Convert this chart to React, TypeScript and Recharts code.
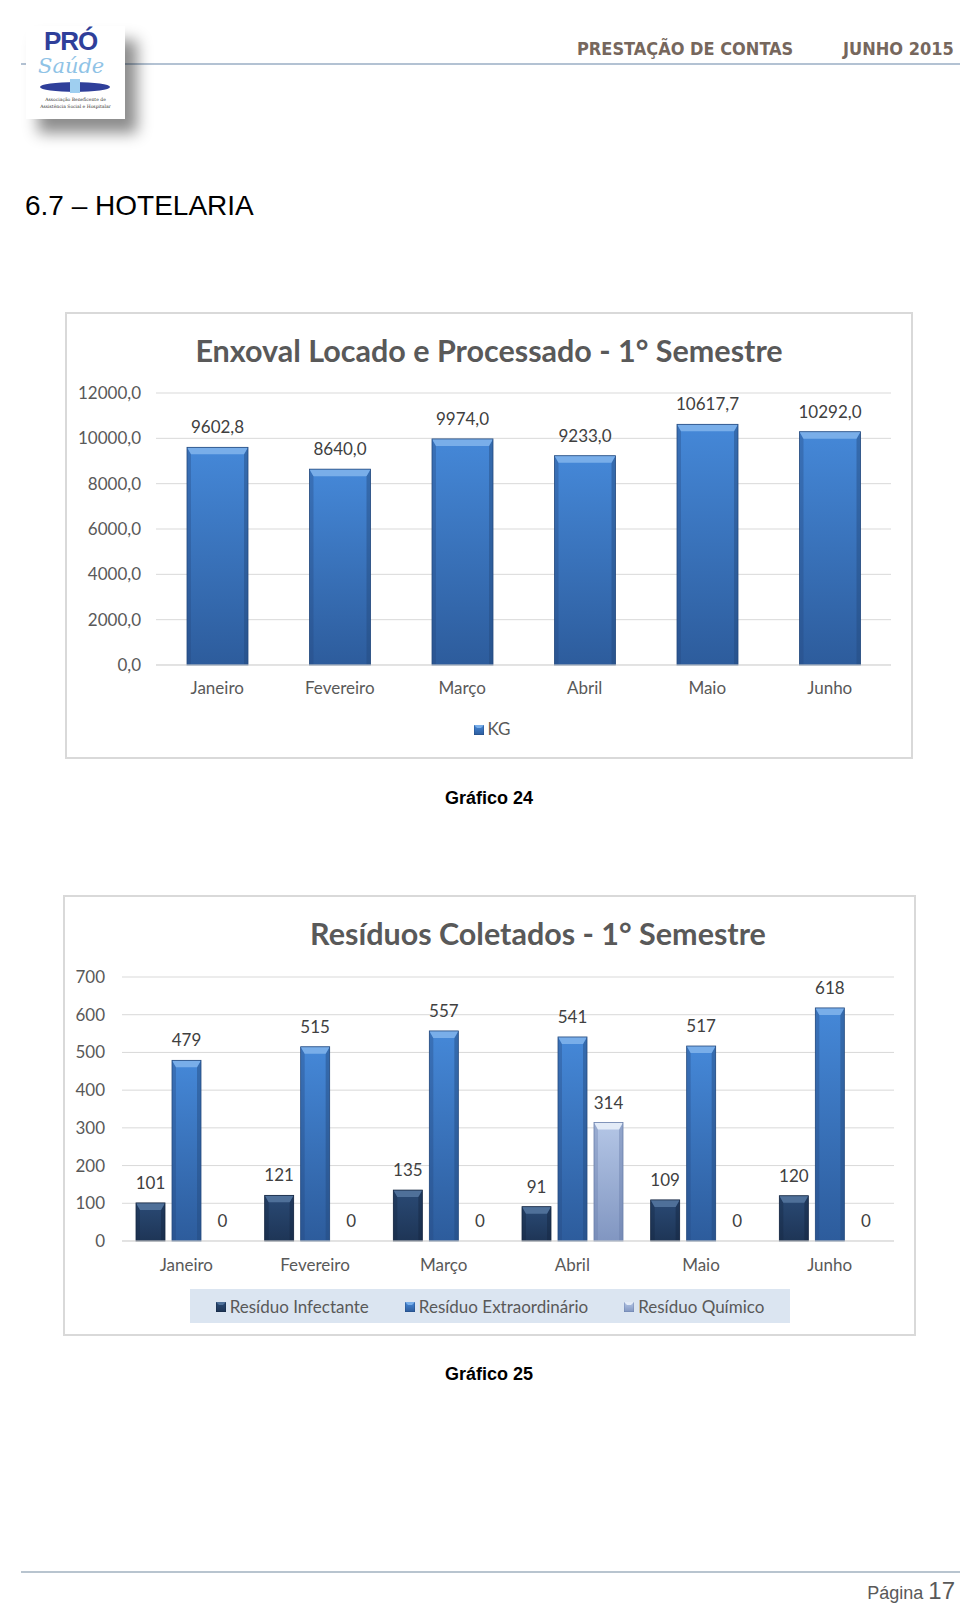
import React from 'react';
import { BarChart, Bar, XAxis, YAxis, CartesianGrid, LabelList } from 'recharts';

const months = ['Janeiro', 'Fevereiro', 'Março', 'Abril', 'Maio', 'Junho'];
const kgValues = [9602.8, 8640.0, 9974.0, 9233.0, 10617.7, 10292.0];
const kgTicks = [0, 2000, 4000, 6000, 8000, 10000, 12000];
const infectante = [101, 121, 135, 91, 109, 120];
const extraordinario = [479, 515, 557, 541, 517, 618];
const quimico = [0, 0, 0, 314, 0, 0];
const residuoTicks = [0, 100, 200, 300, 400, 500, 600, 700];

const kgData = months.map((m, i) => ({ month: m, kg: kgValues[i] }));
const resData = months.map((m, i) => ({
  month: m,
  infectante: infectante[i],
  extraordinario: extraordinario[i],
  quimico: quimico[i],
}));

const CHART_FONT = 'Lato, Carlito, Calibri, sans-serif';
const GRAY = '#595959';
const FS = 17;

type BarStyle = { gid: string; top: string; bottom: string; cap: string; edge: string };

const blueStyle: BarStyle = { gid: 'gBlue', top: '#4588d8', bottom: '#2d5c9c', cap: '#79aee9', edge: '#24497d' };
const blue2Style: BarStyle = { gid: 'gBlue2', top: '#4588d8', bottom: '#2d5c9c', cap: '#79aee9', edge: '#24497d' };
const navyStyle: BarStyle = { gid: 'gNavy', top: '#2a4a75', bottom: '#1e3556', cap: '#4f7099', edge: '#152640' };
const lightStyle: BarStyle = { gid: 'gLight', top: '#b4c6e6', bottom: '#8196c1', cap: '#e3ebf7', edge: '#6a7fab' };

function Grad({ s }: { s: BarStyle }) {
  return (
    <linearGradient id={s.gid} x1="0" y1="0" x2="0" y2="1">
      <stop offset="0%" stopColor={s.top} />
      <stop offset="100%" stopColor={s.bottom} />
    </linearGradient>
  );
}

function makeBar(s: BarStyle) {
  return (props: any) => {
    const { x, y, width, height } = props;
    if (!height || height <= 0) return <g />;
    const b = Math.min(7, height / 2);
    const e = 4;
    return (
      <g>
        <rect x={x} y={y} width={width} height={height} fill={`url(#${s.gid})`} />
        <polygon
          points={`${x},${y} ${x + e},${y + b} ${x + e},${y + height} ${x},${y + height}`}
          fill={s.edge}
          opacity={0.35}
        />
        <polygon
          points={`${x + width},${y} ${x + width - e},${y + b} ${x + width - e},${y + height} ${x + width},${y + height}`}
          fill={s.edge}
          opacity={0.45}
        />
        <polygon
          points={`${x},${y} ${x + width},${y} ${x + width - e},${y + b} ${x + e},${y + b}`}
          fill={s.cap}
        />
        <rect x={x} y={y} width={width} height={height} fill="none" stroke={s.edge} strokeWidth={0.8} />
      </g>
    );
  };
}

function Icon({ s }: { s: BarStyle }) {
  return (
    <svg width={10} height={10} style={{ display: 'inline-block', verticalAlign: 'middle', marginRight: 4, marginTop: -2 }}>
      <defs>
        <linearGradient id={`icon-${s.gid}`} x1="0" y1="0" x2="0" y2="1">
          <stop offset="0%" stopColor={s.top} />
          <stop offset="100%" stopColor={s.bottom} />
        </linearGradient>
      </defs>
      <rect x={0} y={0} width={10} height={10} fill={`url(#icon-${s.gid})`} stroke={s.edge} strokeWidth={0.8} />
      <polygon points="0,0 10,0 7,3 3,3" fill={s.cap} />
    </svg>
  );
}

const fmtKg = (v: any) => Number(v).toFixed(1).replace('.', ',');

function abs(left: number, top: number, extra: React.CSSProperties = {}): React.CSSProperties {
  return { position: 'absolute', left, top, ...extra };
}

function Centered({ cx, cy, children, style }: { cx: number; cy: number; children: React.ReactNode; style?: React.CSSProperties }) {
  return (
    <div
      style={{
        position: 'absolute',
        left: cx - 400,
        top: cy - 20,
        width: 800,
        height: 40,
        lineHeight: '40px',
        textAlign: 'center',
        whiteSpace: 'nowrap',
        ...style,
      }}
    >
      {children}
    </div>
  );
}

function Logo() {
  return (
    <div
      style={abs(26, 26, {
        width: 99,
        height: 93,
        background: '#fff',
        boxShadow: '12px 14px 14px rgba(0,0,0,0.45)',
        overflow: 'hidden',
      })}
    >
      <div style={abs(18, 2, { fontFamily: 'Liberation Sans, Arial', fontWeight: 900, fontSize: 26, lineHeight: '26px', color: '#2f3f9a', letterSpacing: -1 })}>
        PRÓ
      </div>
      <div style={abs(12, 29, { fontFamily: 'DejaVu Serif, serif', fontStyle: 'italic', fontSize: 21, lineHeight: '22px', color: '#8fc3e6' })}>Saúde</div>
      <div style={abs(14, 56, { width: 70, height: 10, borderRadius: '50%', background: '#2f3f9a' })} />
      <div style={abs(44, 53, { width: 10, height: 14, background: '#9fcff0' })} />
      <div
        style={abs(0, 70, {
          width: 99,
          textAlign: 'center',
          fontFamily: 'DejaVu Serif, serif',
          fontSize: 4.5,
          lineHeight: '7px',
          color: '#333',
        })}
      >
        Associação Beneficente de
        <br />
        Assistência Social e Hospitalar
      </div>
    </div>
  );
}

const tickStyle = { fill: GRAY, fontSize: FS, fontFamily: CHART_FONT };
const labelStyle = { fill: '#404040', fontSize: FS, fontFamily: CHART_FONT };

function KgChart() {
  return (
    <div
      style={abs(65, 312, {
        width: 848,
        height: 447,
        border: '2px solid #d9d9d9',
        boxSizing: 'border-box',
        background: '#fff',
      })}
    >
      <BarChart
        width={844}
        height={443}
        data={kgData}
        margin={{ top: 79, right: 20, left: 0, bottom: 62 }}
        barSize={61}
      >
        <defs>
          <Grad s={blueStyle} />
        </defs>
        <CartesianGrid vertical={false} stroke="#d9d9d9" />
        <XAxis dataKey="month" axisLine={{ stroke: '#d9d9d9' }} tickLine={false} tickMargin={11} height={30} tick={tickStyle} />
        <YAxis
          width={89}
          domain={[0, 12000]}
          ticks={kgTicks}
          axisLine={false}
          tickLine={false}
          tickMargin={9}
          tickFormatter={fmtKg}
          tick={tickStyle}
        />
        <Bar dataKey="kg" name="KG" isAnimationActive={false} shape={makeBar(blueStyle)}>
          <LabelList dataKey="kg" position="top" offset={14} formatter={fmtKg} style={labelStyle} />
        </Bar>
      </BarChart>
    </div>
  );
}

function ResChart() {
  return (
    <div
      style={abs(63, 895, {
        width: 853,
        height: 441,
        border: '2px solid #d9d9d9',
        boxSizing: 'border-box',
        background: '#fff',
      })}
    >
      <BarChart
        width={849}
        height={437}
        data={resData}
        margin={{ top: 80, right: 20, left: 0, bottom: 63 }}
        barSize={29}
        barGap={7}
      >
        <defs>
          <Grad s={navyStyle} />
          <Grad s={blue2Style} />
          <Grad s={lightStyle} />
        </defs>
        <CartesianGrid vertical={false} stroke="#d9d9d9" />
        <XAxis dataKey="month" axisLine={{ stroke: '#d9d9d9' }} tickLine={false} tickMargin={12} height={30} tick={tickStyle} />
        <YAxis
          width={57}
          domain={[0, 700]}
          ticks={residuoTicks}
          axisLine={false}
          tickLine={false}
          tickMargin={11}
          tick={tickStyle}
        />
        <Bar dataKey="infectante" name="Resíduo Infectante" isAnimationActive={false} shape={makeBar(navyStyle)}>
          <LabelList dataKey="infectante" position="top" offset={14} style={labelStyle} />
        </Bar>
        <Bar dataKey="extraordinario" name="Resíduo Extraordinário" isAnimationActive={false} shape={makeBar(blue2Style)}>
          <LabelList dataKey="extraordinario" position="top" offset={14} style={labelStyle} />
        </Bar>
        <Bar dataKey="quimico" name="Resíduo Químico" isAnimationActive={false} shape={makeBar(lightStyle)}>
          <LabelList dataKey="quimico" position="top" offset={14} style={labelStyle} />
        </Bar>
      </BarChart>
    </div>
  );
}

const legendText: React.CSSProperties = { fontFamily: CHART_FONT, fontSize: FS, color: GRAY, whiteSpace: 'nowrap' };
const headerStyle: React.CSSProperties = {
  fontFamily: 'DejaVu Sans Condensed, DejaVu Sans',
  fontWeight: 700,
  fontSize: 18,
  lineHeight: '20px',
  color: '#76675d',
  whiteSpace: 'nowrap',
};

export default function App() {
  return (
    <div style={{ position: 'absolute', left: 0, top: 0, width: 960, height: 1609, background: '#fff', overflow: 'hidden' }}>
      {/* header */}
      <div style={abs(21, 63, { width: 939, height: 2, background: '#b3c2d3' })} />
      <Logo />
      <div style={abs(577, 39, headerStyle)}>PRESTAÇÃO DE CONTAS</div>
      <div style={abs(843, 39, headerStyle)}>JUNHO 2015</div>
      <div
        style={abs(25, 188, {
          fontFamily: 'Liberation Sans, Arial',
          fontSize: 28,
          lineHeight: '36px',
          color: '#000',
          whiteSpace: 'nowrap',
        })}
      >
        6.7 – HOTELARIA
      </div>

      {/* chart 1 */}
      <KgChart />
      <Centered cx={489} cy={350} style={{ fontFamily: CHART_FONT, fontWeight: 700, fontSize: 30.5, color: GRAY }}>
        Enxoval Locado e Processado - 1° Semestre
      </Centered>
      <Centered cx={492} cy={729} style={legendText}>
        <Icon s={blueStyle} />
        KG
      </Centered>
      <Centered cx={489} cy={798} style={{ fontFamily: 'Liberation Sans, Arial', fontWeight: 700, fontSize: 18, color: '#000' }}>
        Gráfico 24
      </Centered>

      {/* chart 2 */}
      <ResChart />
      <Centered cx={538} cy={933} style={{ fontFamily: CHART_FONT, fontWeight: 700, fontSize: 30.5, color: GRAY }}>
        Resíduos Coletados - 1° Semestre
      </Centered>
      <div
        style={abs(190, 1289, {
          width: 600,
          height: 34,
          background: '#dbe5f1',
          display: 'flex',
          alignItems: 'center',
          justifyContent: 'center',
          gap: 36,
        })}
      >
        <span style={legendText}>
          <Icon s={navyStyle} />
          Resíduo Infectante
        </span>
        <span style={legendText}>
          <Icon s={blue2Style} />
          Resíduo Extraordinário
        </span>
        <span style={legendText}>
          <Icon s={lightStyle} />
          Resíduo Químico
        </span>
      </div>
      <Centered cx={489} cy={1374} style={{ fontFamily: 'Liberation Sans, Arial', fontWeight: 700, fontSize: 18, color: '#000' }}>
        Gráfico 25
      </Centered>

      {/* footer */}
      <div style={abs(21, 1571, { width: 939, height: 2, background: '#b8c4cf' })} />
      <div
        style={{
          position: 'absolute',
          right: 5,
          top: 1576,
          fontFamily: 'Liberation Sans, Arial',
          color: GRAY,
          whiteSpace: 'nowrap',
          lineHeight: '30px',
        }}
      >
        <span style={{ fontSize: 18 }}>Página </span>
        <span style={{ fontSize: 24 }}>17</span>
      </div>
    </div>
  );
}
